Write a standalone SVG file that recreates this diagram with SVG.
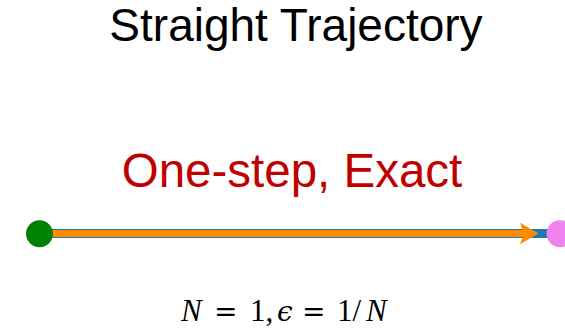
<svg xmlns="http://www.w3.org/2000/svg" width="565" height="328" viewBox="0 0 565 328">
<defs>
<style>
.title{font-family:"Liberation Sans",Arial,sans-serif;font-size:46px;fill:#000;text-anchor:middle}
.sub{font-family:"Liberation Sans",Arial,sans-serif;font-size:47.5px;fill:#C00000;text-anchor:middle}
.math{font-family:"Liberation Serif","DejaVu Serif",serif;font-size:31px;fill:#000}
.it{font-style:italic}
.eq{font-family:"DejaVu Serif",serif;font-size:28px}
</style>
</defs>
<rect width="565" height="328" fill="#fff"/>
<text class="title" x="296" y="41">Straight Trajectory</text>
<text class="sub" x="292" y="187">One-step, Exact</text>
<g id="connectors">
<line x1="39" y1="233.5" x2="552" y2="233.5" stroke="#1F77B4" stroke-width="9"/>
<line x1="39" y1="233.5" x2="524" y2="233.5" stroke="#FF8C00" stroke-width="7"/>
<polygon points="520,222.7 538.5,233.5 520,244.3 524,233.5" fill="#FF8C00"/>
</g>
<g id="start"><circle cx="39.5" cy="233.7" r="13.5" fill="#008000"/></g>
<g id="end"><circle cx="560" cy="233.7" r="13.5" fill="#EE82EE"/></g>
<text class="math" y="321"><tspan class="it" x="181">N</tspan><tspan class="eq" x="214">=</tspan><tspan x="250">1,</tspan><tspan class="it" x="277" font-family="DejaVu Serif" font-size="28">ϵ</tspan><tspan class="eq" x="302">=</tspan><tspan x="337">1/</tspan><tspan class="it" x="366">N</tspan></text>
</svg>
